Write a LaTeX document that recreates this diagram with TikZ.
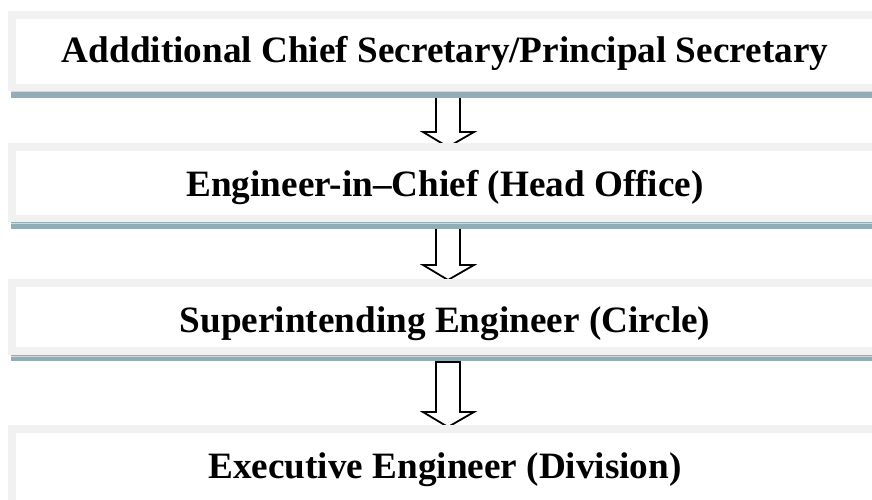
\documentclass[tikz,border=0pt]{standalone}
\usepackage{fontspec}
\setmainfont{Liberation Serif}
\definecolor{framegray}{RGB}{241,241,241}
\definecolor{barblue}{RGB}{147,173,183}
\definecolor{barlight}{RGB}{205,218,223}
\tikzset{
  frame/.style={fill=framegray, draw=none},
  inner/.style={fill=white, draw=none},
  bar/.style={fill=barblue, draw=none},
  barline/.style={draw=barlight, line width=1pt},
  label/.style={font=\fontsize{37.2}{40}\selectfont\bfseries, text=black, anchor=base, inner sep=0pt},
  hollow/.style={draw=black, fill=white, line width=1.8pt, line join=miter}
}
% #1 top y, #2 head y, #3 tip y
\newcommand\hollowarrow[3]{%
  \draw[hollow] (436,#1) -- (436,#2) -- (423,#2) -- (448,#3) -- (474,#2) -- (460,#2) -- (460,#1) -- cycle;}
\begin{document}
\begin{tikzpicture}[x=1pt,y=-1pt]
\useasboundingbox (0,0) rectangle (872,500);
% arrows (drawn first, boxes cover their ends)
\hollowarrow{95}{132}{147}
\hollowarrow{226}{265}{280}
\hollowarrow{362}{412}{427}
% box 1
\fill[frame] (8,11) rectangle (880,91);
\fill[inner] (16,19) rectangle (880,84);
\fill[bar] (11,91) rectangle (880,98);
\draw[barline] (11,92) -- (880,92);
% box 2
\fill[frame] (8,143) rectangle (880,222);
\fill[inner] (16,151) rectangle (880,215);
\fill[bar] (11,222) rectangle (880,229);
\draw[barline] (11,223) -- (880,223);
% box 3
\fill[frame] (8,279) rectangle (880,355);
\fill[inner] (16,287) rectangle (880,347);
\fill[bar] (11,355) rectangle (880,361);
\draw[barline] (11,356) -- (880,356);
% box 4
\fill[frame] (8,425) rectangle (880,510);
\fill[inner] (16,433) rectangle (880,510);
% texts
\node[label] (t1) at (445,63) {Addditional Chief Secretary/Principal Secretary};
\node[label] (t2) at (445,196) {Engineer-in–Chief (Head Office)};
\node[label] (t3) at (445,332) {Superintending Engineer (Circle)};
\node[label] (t4) at (445,478) {Executive Engineer (Division)};
\end{tikzpicture}
\end{document}
